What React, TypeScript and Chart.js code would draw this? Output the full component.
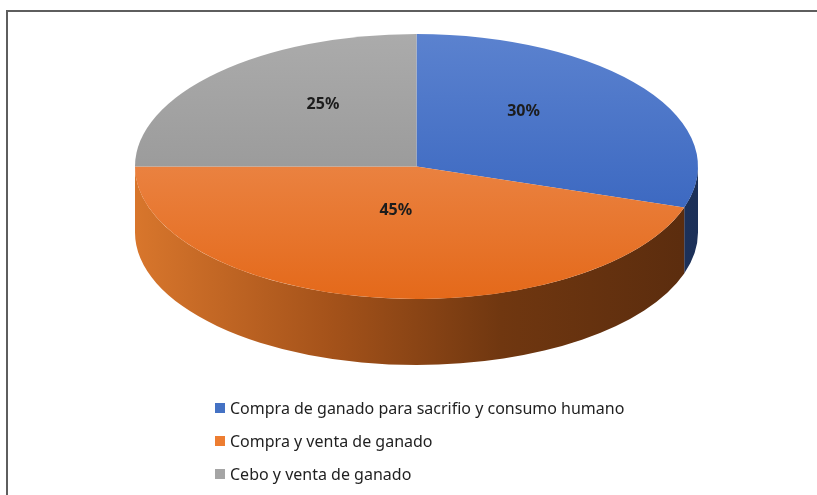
import React, { useEffect, useRef } from "react";
import { Chart, registerables } from "chart.js";

Chart.register(...registerables);

// ---- data ----
const categories = [
  "Compra de ganado para sacrifio y consumo humano",
  "Compra y venta de ganado",
  "Cebo y venta de ganado",
];
const percentages = [30, 45, 25];

// ---- styles ----
const legendColors = ["#4472c4", "#ed7d31", "#a5a5a5"];
const topGradients = [
  ["#5b82cf", "#2d5cba"],
  ["#f09a66", "#e4691a"],
  ["#ababab", "#8c8c8c"],
];
const sideGradients = [
  ["#2c4a88", "#1c3058"],
  ["#d8762c", "#5a2c0e"],
  ["#8a8a8a", "#555555"],
];
const STRETCH = 2.1245; // horizontal stretch of the pie (ellipse rx / ry)
const DEPTH = 66; // thickness of the 3D side
const LABEL_RADIUS = 0.47;
const LABEL_SHIFT = -18;

const pie3d = {
  id: "pie3d",
  beforeDatasetsDraw(chart: any) {
    const meta = chart.getDatasetMeta(0);
    const ctx = chart.ctx as CanvasRenderingContext2D;
    meta.data.forEach((arc: any, i: number) => {
      const { x, y, startAngle, endAngle, outerRadius } = arc.getProps(
        ["x", "y", "startAngle", "endAngle", "outerRadius"],
        true
      );
      const rx = outerRadius * STRETCH;
      const ry = outerRadius;
      for (const base of [-2 * Math.PI, 0, 2 * Math.PI]) {
        const a = Math.max(startAngle, base);
        const b = Math.min(endAngle, base + Math.PI);
        if (b <= a) continue;
        ctx.save();
        ctx.beginPath();
        ctx.ellipse(x, y, rx, ry, 0, a, b, false);
        ctx.ellipse(x, y + DEPTH, rx, ry, 0, b, a, true);
        ctx.closePath();
        const g = ctx.createLinearGradient(x - rx, 0, x + rx, 0);
        const [c0, c1] = sideGradients[i];
        g.addColorStop(0, c0);
        if (i === 1) {
          g.addColorStop(0.35, "#a4521a");
          g.addColorStop(0.65, "#703710");
        }
        g.addColorStop(1, c1);
        ctx.fillStyle = g;
        ctx.fill();
        ctx.restore();
      }
    });
  },
  beforeDatasetDraw(chart: any) {
    const meta = chart.getDatasetMeta(0);
    const ctx = chart.ctx as CanvasRenderingContext2D;
    const cx = meta.data[0].x;
    ctx.save();
    ctx.translate(cx, 0);
    ctx.scale(STRETCH, 1);
    ctx.translate(-cx, 0);
  },
  afterDatasetDraw(chart: any) {
    chart.ctx.restore();
  },
  afterDatasetsDraw(chart: any) {
    const meta = chart.getDatasetMeta(0);
    const ctx = chart.ctx as CanvasRenderingContext2D;
    ctx.save();
    ctx.font = 'bold 16px "Noto Sans", "Liberation Sans", sans-serif';
    ctx.fillStyle = "#1c1c1c";
    ctx.textAlign = "center";
    ctx.textBaseline = "middle";
    meta.data.forEach((arc: any, i: number) => {
      const { x, y, startAngle, endAngle, outerRadius } = arc.getProps(
        ["x", "y", "startAngle", "endAngle", "outerRadius"],
        true
      );
      const mid = (startAngle + endAngle) / 2;
      const px = x + STRETCH * outerRadius * LABEL_RADIUS * Math.cos(mid);
      const py = y + outerRadius * LABEL_RADIUS * Math.sin(mid) + LABEL_SHIFT;
      ctx.fillText(`${percentages[i]}%`, px, py);
    });
    ctx.restore();
  },
};

export default function App() {
  const canvasRef = useRef<HTMLCanvasElement | null>(null);

  useEffect(() => {
    if (!canvasRef.current) return;
    const chart = new Chart(canvasRef.current, {
      type: "pie",
      data: {
        labels: categories,
        datasets: [
          {
            data: percentages,
            borderWidth: 0,
            clip: false as any,
            backgroundColor: (c: any) => {
              const ch = c.chart;
              const area = ch.chartArea;
              const i = c.dataIndex ?? 0;
              if (!area) return legendColors[i];
              const g = ch.ctx.createLinearGradient(0, area.top, 0, area.bottom);
              g.addColorStop(0, topGradients[i][0]);
              g.addColorStop(1, topGradients[i][1]);
              return g;
            },
          },
        ],
      },
      options: {
        responsive: true,
        maintainAspectRatio: false,
        animation: false,
        events: [],
        layout: { padding: { top: 34, bottom: 196, left: 16, right: 0 } },
        plugins: {
          legend: { display: false },
          tooltip: { enabled: false },
        },
      },
      plugins: [pie3d],
    });
    return () => chart.destroy();
  }, []);

  return (
    <div
      style={{
        position: "absolute",
        left: 0,
        top: 0,
        width: 817,
        height: 495,
        background: "#ffffff",
        overflow: "hidden",
      }}
    >
      <div
        style={{
          position: "absolute",
          left: 6,
          top: 10,
          width: 840,
          height: 520,
          borderTop: "2px solid #5e5e5e",
          borderLeft: "2px solid #5e5e5e",
        }}
      />
      <div style={{ position: "absolute", left: 0, top: 0, width: 817, height: 495 }}>
        <canvas ref={canvasRef} />
      </div>
      <div
        style={{
          position: "absolute",
          left: 215,
          top: 391,
          fontFamily: '"Noto Sans", "Liberation Sans", sans-serif',
          fontSize: 16,
          color: "#1f1f1f",
        }}
      >
        {categories.map((c, i) => (
          <div
            key={c}
            style={{ display: "flex", alignItems: "center", height: 33, whiteSpace: "nowrap" }}
          >
            <span
              style={{
                display: "inline-block",
                width: 10,
                height: 10,
                background: legendColors[i],
                marginRight: 5,
              }}
            />
            <span>{c}</span>
          </div>
        ))}
      </div>
    </div>
  );
}
